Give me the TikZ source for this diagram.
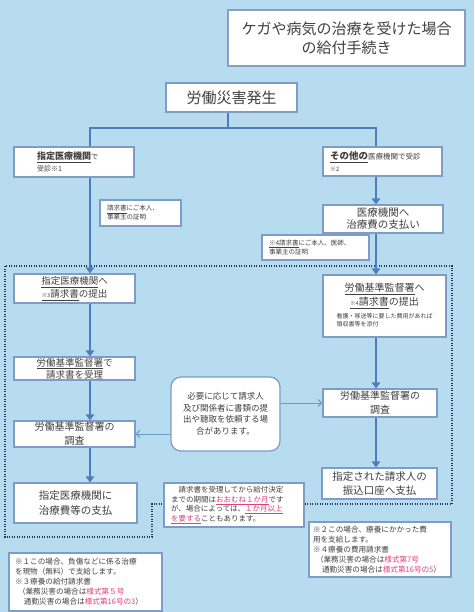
\documentclass[tikz,border=0pt]{standalone}
\usepackage{fontspec}
\setmainfont{Noto Sans CJK JP}
\usetikzlibrary{arrows.meta}
\definecolor{bg}{HTML}{B7DBEF}
\definecolor{boxc}{HTML}{7E9CC6}
\definecolor{titlec}{HTML}{8A9EBD}
\definecolor{linec}{HTML}{4C7FB9}
\definecolor{thinc}{HTML}{6A9BCB}
\definecolor{framec}{HTML}{1F3A60}
\definecolor{txt}{HTML}{404040}
\definecolor{pinkc}{HTML}{E0407B}
\newcommand\pku[1]{\textcolor{pinkc}{\underline{#1}}}
\newcommand\pk[1]{\textcolor{pinkc}{#1}}
\newcommand\fsz[2]{\fontsize{#1}{#2}\selectfont}
\begin{document}
\begin{tikzpicture}[x=1pt,y=-1pt,
  box/.style={draw=boxc, fill=white, line width=1.2pt, text=txt, align=center, inner sep=0pt},
  lbox/.style={box, align=left},
  conn/.style={draw=linec, line width=2.6pt},
  arr/.style={conn, -{Triangle[length=6pt,width=8.5pt]}},
  thinarr/.style={draw=thinc, line width=1pt, -{Straight Barb[length=3.5pt,width=7pt]}},
  dotframe/.style={draw=framec, line width=1.4pt, dash pattern=on 1.3pt off 1.2pt}]
\fill[bg] (0,0) rectangle (474,612);
\useasboundingbox (0,0) rectangle (474,612);

% frame
\coordinate (f1) at (5,266);
\coordinate (f2) at (452,266);
\coordinate (f3) at (452,504);
\coordinate (f4) at (152,504);
\coordinate (f5) at (152,537);
\coordinate (f6) at (5,537);

% nodes
\node[box, draw=titlec, line width=1.6pt, minimum width=237pt, minimum height=56pt, font=\fsz{15}{19}] (title) at (346.5,38) {ケガや病気の治療を受けた場合\\の給付手続き};
\node[box, minimum width=131pt, minimum height=29pt, font=\fsz{15}{18}] (occur) at (231.5,97.5) {労働災害発生};

\node[lbox, inner xsep=23pt, text width=74pt, minimum height=30pt, font=\fsz{9}{12}] (L1) at (74,162)
  {\underline{\textbf{指定医療機関}}{\fsz{7}{9}で}\\{\fsz{7}{9}受診※1}};
\node[lbox, inner xsep=7pt, text width=105pt, minimum height=29pt, font=\fsz{9.5}{12}] (R1) at (382.5,161.5)
  {\underline{\textbf{その他の}}{\fsz{7.5}{9}医療機関で受診}\\{\fsz{6}{8}※2}};

\node[lbox, inner xsep=7pt, text width=67pt, minimum height=26pt, font=\fsz{6.5}{9}] (Ln1) at (140.5,213)
  {\underline{請求書}にご本人、\\事業主の証明};
\node[box, minimum width=120pt, minimum height=28pt, font=\fsz{10.5}{12}] (R2) at (383,219)
  {医療機関へ\\治療費の支払い};
\node[lbox, inner xsep=7pt, text width=93pt, minimum height=25pt, font=\fsz{6.5}{9}] (Rn1) at (315.5,247.5)
  {\underline{※4請求書}にご本人、医師、\\事業主の証明};

\node[box, minimum width=121pt, minimum height=29pt, font=\fsz{9.5}{13}] (L2) at (74.5,288.5)
  {\underline{指定医療機関}へ\\\underline{{\fsz{5.5}{6}※3}請求書}の提出};
\node[box, minimum width=123pt, minimum height=62pt, font=\fsz{10}{14}] (R3) at (384.5,306)
  {\underline{労働基準監督署}へ\\\underline{{\fsz{5.5}{6}※4}請求書}の提出\\[3pt]%
   \fsz{6}{7.5}\begin{tabular}{@{}l@{}}看護・移送等に要した費用があれば\\領収書等を添付\end{tabular}};

\node[box, minimum width=121pt, minimum height=23pt, font=\fsz{9.5}{12}] (L3) at (74.5,368.5)
  {\underline{労働基準監督署}で\\請求書を受理};
\node[box, rounded corners=10pt, minimum width=109pt, minimum height=74pt, font=\fsz{8.5}{11.5}] (round) at (225.5,414)
  {必要に応じて請求人\\及び関係者に書類の提\\出や聴取を依頼する場\\合があります。};
\node[box, minimum width=114pt, minimum height=28pt, font=\fsz{10}{14}] (R4) at (380,403)
  {労働基準監督署の\\調査};
\node[box, minimum width=121pt, minimum height=26pt, font=\fsz{10}{14}] (L4) at (74.5,434)
  {労働基準監督署の\\調査};
\node[box, minimum width=115pt, minimum height=31pt, font=\fsz{10.5}{14}] (R5) at (379.5,483.5)
  {指定された請求人の\\振込口座へ支払};
\node[box, minimum width=123pt, minimum height=40pt, font=\fsz{10.5}{15}] (L5) at (75.5,503)
  {指定医療機関に\\治療費等の支払};

\node[lbox, inner xsep=7pt, text width=126pt, minimum height=44pt, font=\fsz{7.5}{9.5}] (note) at (234,505)
  {　請求書を受理してから給付決定\\までの期間は\pku{おおむね１か月}です\\が、場合によっては、\pku{１か月以上}\\\pku{を要する}こともあります。};

\node[lbox, inner xsep=4pt, text width=134pt, minimum height=55pt, font=\fsz{7.6}{10}] (Rn) at (380,549.5)
  {※２この場合、療養にかかった費\\用を支給します。\\※４療養の費用請求書\\\hspace*{3pt}（業務災害の場合は\pk{様式第7号}\\\hspace*{9pt}通勤災害の場合は\pk{様式第16号の5}）};
\node[lbox, inner xsep=6pt, text width=141pt, minimum height=58pt, font=\fsz{7.6}{10}] (Ln) at (85.5,582)
  {※１この場合、負傷などに係る治療\\を現物（無料）で支給します。\\※３療養の給付請求書\\\hspace*{3pt}（業務災害の場合は\pk{様式第５号}\\\hspace*{9pt}通勤災害の場合は\pk{様式第16号の3}）};

% dotted frame
\draw[dotframe] (note.east |- f3) -- (f3) -- (f2) -- (f1) -- (f6) -- (f5) -- (f4) -- (note.west |- f4);

% connectors
\coordinate (jL) at (90,128);
\coordinate (jM) at (228,128);
\coordinate (jR) at (376,128);
\draw[conn] (jM |- occur.south) -- (jM);
\draw[conn] (jL |- L1.north) -- (jL) -- (jR) -- (jR |- R1.north);
\draw[arr] (jL |- L1.south) -- (jL |- L2.north);
\draw[arr] (jL |- L2.south) -- (jL |- L3.north);
\draw[arr] (jL |- L3.south) -- (jL |- L4.north);
\draw[arr] (jL |- L4.south) -- (jL |- L5.north);
\draw[arr] (jR |- R1.south) -- (jR |- R2.north);
\draw[arr] (jR |- R2.south) -- (jR |- R3.north);
\draw[arr] (jR |- R3.south) -- (jR |- R4.north);
\draw[arr] (jR |- R4.south) -- (jR |- R5.north);
\draw[thinarr] (round.east |- R4.west) -- (R4.west);
\draw[thinarr] (round.west |- L4.east) -- (L4.east);
\end{tikzpicture}
\end{document}
